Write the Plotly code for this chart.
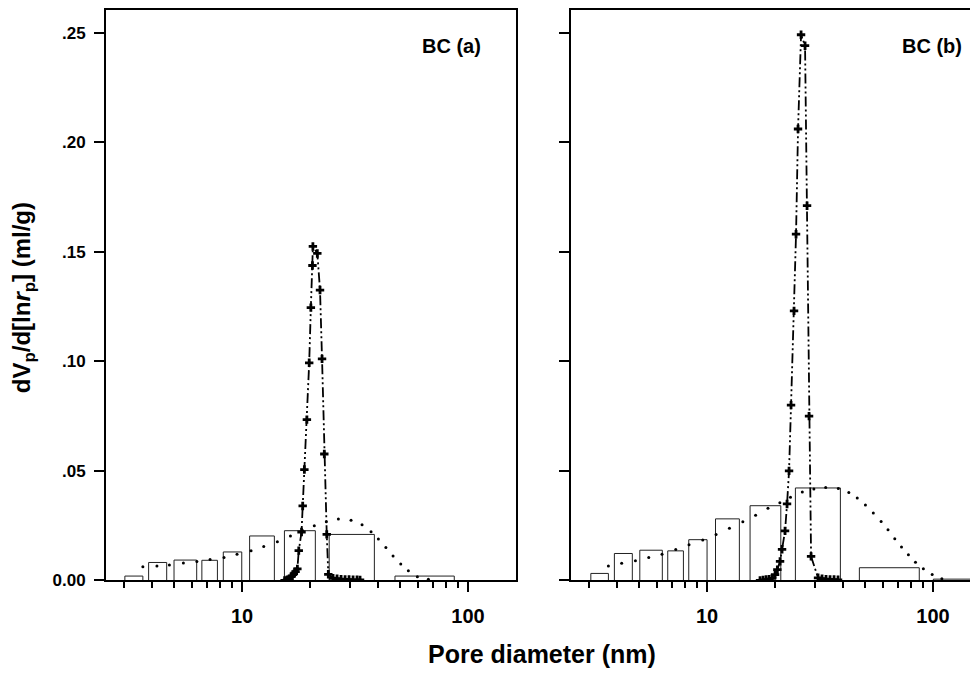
import plotly.graph_objects as go

# ---------------- data ----------------
# Panel (a)  BC (a)
bar_a_left = [3.03, 3.86, 5.00, 6.64, 8.26, 10.8, 15.4, 24.3, 47.5]
bar_a_right = [3.64, 4.64, 6.30, 7.78, 9.97, 13.9, 21.1, 38.5, 86.9]
bar_a_height = [0.0020, 0.0082, 0.0093, 0.0092, 0.0130, 0.0203, 0.0227, 0.0210, 0.0020]

dots_a_d = [3.64, 4.20, 4.77, 5.50, 6.31, 7.22, 8.32, 9.50, 10.96, 12.47, 14.33, 16.37,
            18.51, 20.88, 23.60, 26.68, 30.36, 33.96, 37.22, 40.10, 43.28, 46.58, 50.38,
            54.43, 59.67, 66.74]
dots_a_v = [0.0062, 0.0066, 0.0071, 0.0080, 0.0086, 0.0095, 0.0105, 0.0119, 0.0135, 0.0155,
            0.0176, 0.0203, 0.0228, 0.0250, 0.0268, 0.0280, 0.0275, 0.0254, 0.0222, 0.0189,
            0.0150, 0.0111, 0.0075, 0.0044, 0.0017, 0.0005]

peak_a_d = [15.43, 15.82, 16.23, 16.59, 16.95, 17.25, 17.57, 17.82, 18.33, 18.55, 18.87,
            19.36, 19.82, 20.16, 20.49, 20.58, 21.53, 22.13, 22.59, 23.12, 23.70, 24.08,
            25.27, 26.33, 27.42, 28.57, 29.75, 30.99, 32.27, 33.27]
peak_a_v = [0.0000, 0.0003, 0.0008, 0.0020, 0.0030, 0.0040, 0.0053, 0.0136, 0.0221, 0.0340,
            0.0506, 0.0734, 0.0993, 0.1245, 0.1437, 0.1524, 0.1492, 0.1325, 0.1011, 0.0577,
            0.0210, 0.0028, 0.0010, 0.0008, 0.0006, 0.0005, 0.0004, 0.0003, 0.0003, 0.0002]

# Panel (b)  BC (b)
bar_b_left = [3.06, 3.89, 5.04, 6.70, 8.30, 10.9, 15.5, 24.6, 47.2, 100.3]
bar_b_right = [3.66, 4.67, 6.34, 7.86, 10.0, 13.9, 21.2, 38.9, 86.9, 148.0]
bar_b_height = [0.0032, 0.0123, 0.0138, 0.0135, 0.0186, 0.0281, 0.0341, 0.0422, 0.0058, 0.0006]

dots_b_d = [3.66, 4.19, 4.82, 5.52, 6.32, 7.27, 8.32, 9.57, 10.96, 12.56, 14.4, 16.4, 18.6,
            21.0, 23.4, 26.4, 29.7, 33.5, 38.1, 42.4, 46.2, 50.2, 54.4, 58.9, 63.2, 67.7,
            72.5, 77.8, 83.6, 90.6, 99.1, 109.4]
dots_b_v = [0.0066, 0.0078, 0.0090, 0.0105, 0.0120, 0.0141, 0.0163, 0.0184, 0.0210, 0.0238,
            0.0268, 0.0298, 0.0329, 0.0355, 0.0380, 0.0403, 0.0417, 0.0424, 0.0419, 0.0401,
            0.0376, 0.0344, 0.0308, 0.0269, 0.0231, 0.0190, 0.0153, 0.0117, 0.0083, 0.0053,
            0.0027, 0.0008]

peak_b_d = [17.16, 17.69, 18.24, 18.81, 19.39, 20.00, 20.47, 21.04, 21.47, 22.14, 22.59,
            23.06, 23.53, 24.26, 24.76, 25.27, 26.06, 27.14, 27.70, 28.27, 28.86, 30.98,
            32.27, 33.61, 35.01, 36.47, 37.98]
peak_b_v = [0.0000, 0.0002, 0.0004, 0.0006, 0.0009, 0.0027, 0.0049, 0.0087, 0.0142, 0.0226,
            0.0349, 0.0500, 0.0800, 0.1230, 0.1580, 0.2060, 0.2490, 0.2440, 0.1710, 0.0750,
            0.0110, 0.0012, 0.0008, 0.0006, 0.0005, 0.0004, 0.0003]

y_tickvals = [0.0, 0.05, 0.10, 0.15, 0.20, 0.25]
y_ticktext = ["0.00", ".05", ".10", ".15", ".20", ".25"]
x_tickvals = [10, 100]
x_ticktext = ["10", "100"]
x_minor = [3, 4, 5, 6, 7, 8, 9, 20, 30, 40, 50, 60, 70, 80, 90, 200]
panel_labels = ["BC (a)", "BC (b)"]

# ---------------- figure ----------------
# the page body has an 8px margin, so the figure is 8px smaller than the window
OFF = 8
W, H = 978 - OFF, 677 - OFF
FONT = "Liberation Sans, Arial, sans-serif"


def px(x):
    return (x - OFF) / W


def py(y):
    return 1 - (y - OFF) / H


def rects(lefts, rights, heights):
    xs, ys = [], []
    for l, r, h in zip(lefts, rights, heights):
        xs += [l, l, r, r, None]
        ys += [0, h, h, 0, None]
    return xs, ys


fig = go.Figure()
panels = [
    (bar_a_left, bar_a_right, bar_a_height, dots_a_d, dots_a_v, peak_a_d, peak_a_v, "x", "y"),
    (bar_b_left, bar_b_right, bar_b_height, dots_b_d, dots_b_v, peak_b_d, peak_b_v, "x2", "y2"),
]
for bl, br, bh, dd, dv, pd_, pv, xa, ya in panels:
    rx, ry = rects(bl, br, bh)
    fig.add_trace(go.Scatter(x=rx, y=ry, mode="lines", xaxis=xa, yaxis=ya,
                             line=dict(color="#222222", width=1), showlegend=False,
                             hoverinfo="skip"))
    fig.add_trace(go.Scatter(x=dd, y=dv, mode="markers", xaxis=xa, yaxis=ya,
                             marker=dict(color="black", size=3), showlegend=False))
    fig.add_trace(go.Scatter(x=pd_, y=pv, mode="lines+markers", xaxis=xa, yaxis=ya,
                             line=dict(color="black", width=1.8,
                                       dash="10px,3px,2px,3px,2px,3px"),
                             marker=dict(symbol="cross", size=7, color="black",
                                         line=dict(width=0)),
                             showlegend=False))

DEC = 226.0          # pixels per decade
LOG_LEFT = 0.398     # log10 of left edge diameter
yr = [0, 0.2603]
ydom = [py(589), py(9)]

common_x = dict(type="log", showline=True, linecolor="black", linewidth=2,
                ticks="outside", ticklen=10, tickwidth=2, tickcolor="black",
                tickvals=x_tickvals, ticktext=x_ticktext, showgrid=False, zeroline=False,
                tickfont=dict(family=FONT, size=20, color="black", weight="bold"),
                minor=dict(ticks="outside", ticklen=6, tickwidth=2, tickcolor="black",
                           tickvals=x_minor, showgrid=False),
                mirror=True, ticklabelstandoff=7)
common_y = dict(range=yr, showline=True, linecolor="black", linewidth=2,
                ticks="outside", ticklen=10, tickwidth=2, tickcolor="black",
                tickvals=y_tickvals, ticktext=y_ticktext, showgrid=False, zeroline=False,
                tickfont=dict(family=FONT, size=17, color="black", weight="bold"),
                ticklabelstandoff=5)

fig.update_layout(
    width=W, height=H,
    margin=dict(l=0, r=0, t=0, b=0),
    paper_bgcolor="white", plot_bgcolor="white",
    xaxis=dict(**common_x, range=[LOG_LEFT, LOG_LEFT + (516 - 106) / DEC],
               domain=[px(106), px(516)], anchor="y"),
    xaxis2=dict(**common_x, range=[LOG_LEFT, LOG_LEFT + (978 - 571) / DEC],
                domain=[px(571), 1.0], anchor="y2"),
    yaxis=dict(**common_y, domain=ydom, anchor="x", mirror=True),
    yaxis2=dict(**common_y, domain=ydom, anchor="x2", mirror=False, showticklabels=False),
    font=dict(family=FONT, color="black"),
)

fig.add_annotation(text=panel_labels[0], x=px(483), y=py(46), xref="paper", yref="paper",
                   xanchor="right", yanchor="middle", showarrow=False,
                   font=dict(family=FONT, size=20, color="black", weight="bold"))
fig.add_annotation(text=panel_labels[1], x=px(964), y=py(46), xref="paper", yref="paper",
                   xanchor="right", yanchor="middle", showarrow=False,
                   font=dict(family=FONT, size=20, color="black", weight="bold"))
fig.add_annotation(text="Pore diameter (nm)", x=px(542), y=py(664), xref="paper",
                   yref="paper", xanchor="center", yanchor="middle", showarrow=False,
                   font=dict(family=FONT, size=25, color="black", weight="bold"))
fig.add_annotation(text="dV<sub>p</sub>/d[ln<i>r</i><sub>p</sub>] (ml/g)", x=px(23),
                   y=py(302), xref="paper", yref="paper", xanchor="center",
                   yanchor="middle", textangle=-90, showarrow=False,
                   font=dict(family=FONT, size=24, color="black", weight="bold"))

fig.write_html("out.html")
